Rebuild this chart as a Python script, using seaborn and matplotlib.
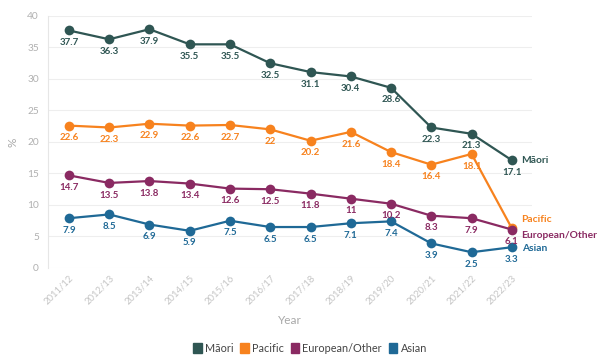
import pandas as pd
import matplotlib
matplotlib.use("Agg")
import matplotlib.pyplot as plt
from matplotlib.patches import Patch
import seaborn as sns

years = ["2011/12", "2012/13", "2013/14", "2014/15", "2015/16", "2016/17",
         "2017/18", "2018/19", "2019/20", "2020/21", "2021/22", "2022/23"]
maori = [37.7, 36.3, 37.9, 35.5, 35.5, 32.5, 31.1, 30.4, 28.6, 22.3, 21.3, 17.1]
pacific = [22.6, 22.3, 22.9, 22.6, 22.7, 22, 20.2, 21.6, 18.4, 16.4, 18.1, 6.3]
european = [14.7, 13.5, 13.8, 13.4, 12.6, 12.5, 11.8, 11, 10.2, 8.3, 7.9, 6.1]
asian = [7.9, 8.5, 6.9, 5.9, 7.5, 6.5, 6.5, 7.1, 7.4, 3.9, 2.5, 3.3]

groups = ["Māori", "Pacific", "European/Other", "Asian"]
colors = {"Māori": "#2f5653", "Pacific": "#f7821e",
          "European/Other": "#8a2a62", "Asian": "#1f6996"}

series = {"Māori": maori, "Pacific": pacific,
          "European/Other": european, "Asian": asian}
rows = []
for g in groups:
    for i, v in enumerate(series[g]):
        rows.append({"pos": i, "value": v, "group": g})
df = pd.DataFrame(rows)

sns.set_style("white")
plt.rcParams['font.family'] = ['Lato', 'DejaVu Sans']

fig = plt.figure(figsize=(6.02, 3.6), dpi=100)
ax = fig.add_axes([0.0797, 0.2556, 0.804, 0.7])

sns.lineplot(data=df, x="pos", y="value", hue="group", hue_order=groups,
             palette=colors, marker="o", markersize=7, markeredgewidth=0,
             linewidth=1.6, ax=ax, legend=False)

# value labels under each point (Pacific's last point is hidden behind European)
for g in groups:
    vals = series[g]
    for i, v in enumerate(vals):
        if g == "Pacific" and i == len(vals) - 1:
            continue
        ax.annotate(f"{v:g}", (i, v), xytext=(0, -5.5), textcoords="offset points",
                    ha="center", va="top", fontsize=7, fontweight="bold",
                    color=colors[g])

# series names at the right end
end_offsets = {"Māori": (7, 0), "Pacific": (7, 6.5), "European/Other": (7, -4.5),
               "Asian": (7, -1)}
for g in groups:
    dx, dy = end_offsets[g]
    ax.annotate(g, (11, series[g][-1]), xytext=(dx, dy), textcoords="offset points",
                ha="left", va="center", fontsize=7.4, fontweight="bold",
                color=colors[g], annotation_clip=False)

ax.set_xlim(-0.52, 11.5)
ax.set_ylim(0, 40)
ax.set_yticks(range(0, 41, 5))
ax.set_xticks(range(len(years)))
ax.set_xticklabels(years, rotation=45, ha="right", rotation_mode="anchor")
ax.tick_params(axis="x", labelsize=6.8, colors="#c4c4c4", length=0, pad=4)
ax.tick_params(axis="y", labelsize=7.3, colors="#b0b0b0", length=3, width=0.6)
ax.grid(axis="y", color="#eeeeee", linewidth=0.8)
for s in ["top", "right", "bottom"]:
    ax.spines[s].set_visible(False)
ax.spines["left"].set_color("#e6e6e6")
ax.spines["left"].set_linewidth(0.8)

ax.set_xlabel("Year", fontsize=8.5, color="#a8a8a8", labelpad=6)
ax.set_ylabel("%", fontsize=8.5, color="#a8a8a8", labelpad=6)

handles = [Patch(facecolor=colors[g], edgecolor=colors[g], label=g) for g in groups]
fig.legend(handles=handles, loc="center", bbox_to_anchor=(0.515, 0.032), ncol=4,
           frameon=False, fontsize=7.8, handlelength=0.8, handleheight=1.1,
           handletextpad=0.3, columnspacing=0.6, labelcolor="#444444")

fig.savefig("out.png", dpi=100)
